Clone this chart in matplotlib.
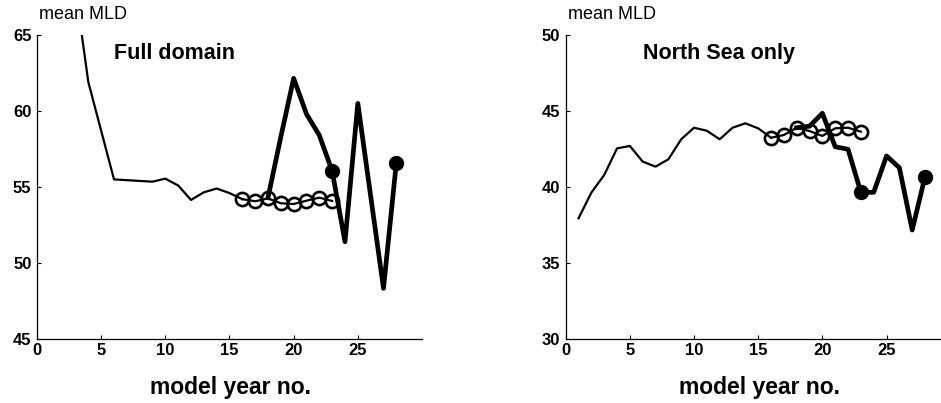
import matplotlib
matplotlib.use("Agg")
import matplotlib.pyplot as plt

plt.rcParams['font.family'] = ['Liberation Sans', 'DejaVu Sans']

# ---- Full domain ----
full_years_thin = [1, 2, 3, 4, 5, 6, 7, 8, 9, 10, 11, 12, 13, 14, 15, 16]
full_thin = [75.0, 71.0, 68.0, 61.9, 58.7, 55.5, 55.45, 55.4, 55.35, 55.55, 55.1, 54.15, 54.65, 54.9, 54.6, 54.2]
full_years_circ = [16, 17, 18, 19, 20, 21, 22, 23]
full_circ = [54.2, 54.06, 54.25, 53.93, 53.88, 54.1, 54.3, 54.08]
full_years_thick = [18, 19, 20, 21, 22, 23, 24, 25, 26, 27, 28]
full_thick = [54.3, 58.3, 62.15, 59.8, 58.4, 56.05, 51.4, 60.5, 54.4, 48.33, 56.6]
full_years_dot = [23, 28]
full_dot = [56.05, 56.6]

# ---- North Sea only ----
ns_years_thin = [1, 2, 3, 4, 5, 6, 7, 8, 9, 10, 11, 12, 13, 14, 15, 16]
ns_thin = [37.94, 39.63, 40.79, 42.54, 42.7, 41.67, 41.34, 41.82, 43.14, 43.9, 43.7, 43.14, 43.9, 44.19, 43.86, 43.24]
ns_years_circ = [16, 17, 18, 19, 20, 21, 22, 23]
ns_circ = [43.24, 43.42, 43.9, 43.68, 43.36, 43.86, 43.9, 43.64]
ns_years_thick = [18, 19, 20, 21, 22, 23, 24, 25, 26, 27, 28]
ns_thick = [43.9, 44.0, 44.85, 42.65, 42.48, 39.65, 39.65, 42.04, 41.27, 37.17, 40.68]
ns_years_dot = [23, 28]
ns_dot = [39.65, 40.68]

xticks = [0, 5, 10, 15, 20, 25]
full_yticks = [45, 50, 55, 60, 65]
ns_yticks = [30, 35, 40, 45, 50]

W, H = 941, 403
fig = plt.figure(figsize=(W / 100, H / 100), dpi=100)

panels = [
    dict(left=37, title="Full domain", ylim=(45, 65), yticks=full_yticks,
         yt=full_years_thin, vt=full_thin, yc=full_years_circ, vc=full_circ,
         yk=full_years_thick, vk=full_thick, yd=full_years_dot, vd=full_dot),
    dict(left=565.7, title="North Sea only", ylim=(30, 50), yticks=ns_yticks,
         yt=ns_years_thin, vt=ns_thin, yc=ns_years_circ, vc=ns_circ,
         yk=ns_years_thick, vk=ns_thick, yd=ns_years_dot, vd=ns_dot),
]

for p in panels:
    ax = fig.add_axes([p['left'] / W, (H - 339) / H, 385 / W, 304 / H])
    ax.plot(p['yt'], p['vt'], color='black', lw=1.6, zorder=2)
    ax.plot(p['yc'], p['vc'], color='black', lw=1.6, marker='o', ms=9.5,
            mfc='none', mec='black', mew=1.9, zorder=3)
    ax.plot(p['yk'], p['vk'], color='black', lw=3.4, zorder=4)
    ax.plot(p['yd'], p['vd'], 'o', color='black', ms=10, zorder=5)
    ax.set_xlim(0, 30)
    ax.set_ylim(*p['ylim'])
    ax.set_xticks(xticks)
    ax.set_yticks(p['yticks'])
    for s in ['top', 'right']:
        ax.spines[s].set_visible(False)
    for s in ['left', 'bottom']:
        ax.spines[s].set_linewidth(0.9)
    ax.tick_params(direction='in', length=3, width=0.8, labelsize=12)
    ax.tick_params(axis='x', pad=3)
    ax.tick_params(axis='y', pad=4)
    for lab in ax.get_xticklabels() + ax.get_yticklabels():
        lab.set_fontweight('bold')
    ax.text(6.0, p['ylim'][1] - 1.6, p['title'], fontsize=15.5, fontweight='bold',
            ha='left', va='baseline')
    x0 = (p['left'] + 2) / W
    fig.text(x0, (H - 19) / H, "mean MLD", fontsize=13, ha='left', va='baseline')
    fig.text((p['left'] + 385 / 2 + 1) / W, (H - 394) / H, "model year no.",
             fontsize=16.5, fontweight='bold', ha='center', va='baseline')
    ax.patch.set_alpha(0)

fig.savefig("out.png", dpi=100)
